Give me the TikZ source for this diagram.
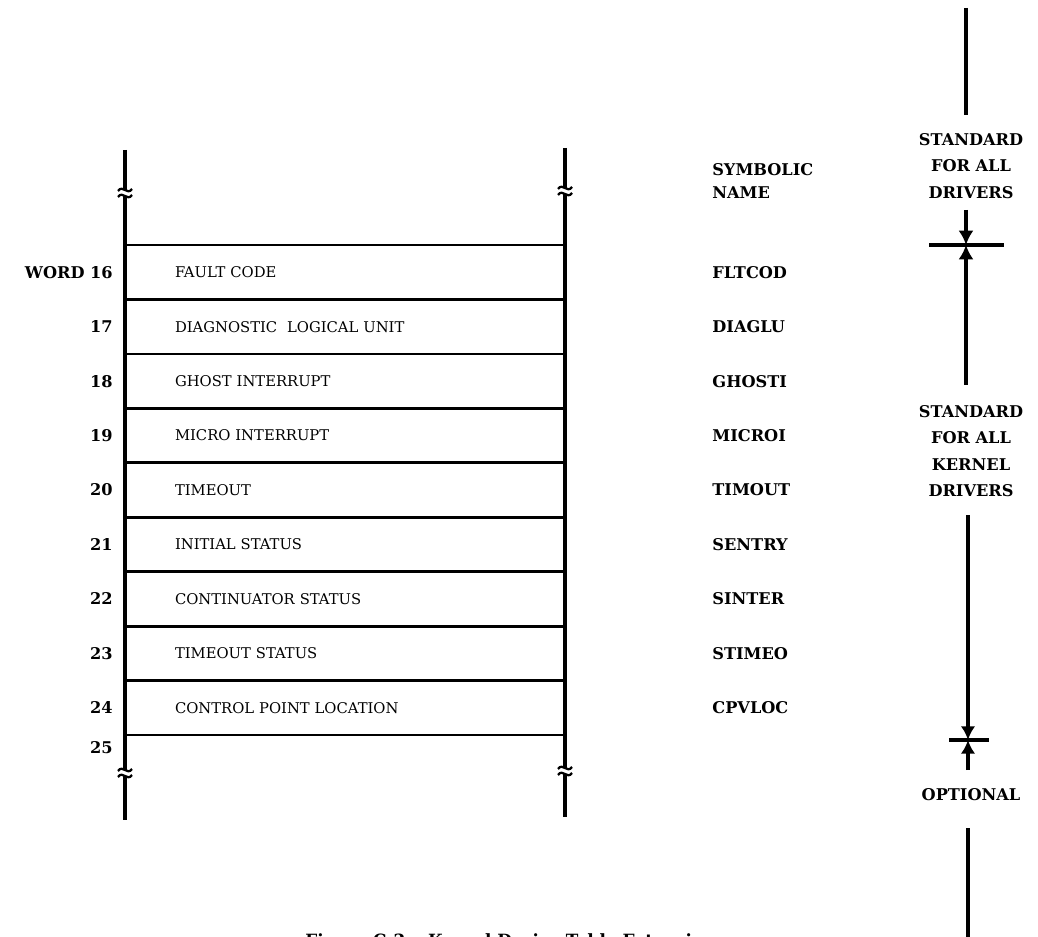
\documentclass[tikz,border=0pt]{standalone}
\usepackage{fontspec}
\setmainfont{DejaVu Serif}
\usetikzlibrary{arrows.meta,positioning}

\newcommand{\fieldfont}{\fontsize{10.5}{12}\selectfont}
\newcommand{\tagfont}{\fontsize{11.5}{18.8}\selectfont\bfseries}

\begin{document}
\begin{tikzpicture}[x=0.025cm, y=-0.025cm,
  node distance=0pt,
  field/.style={draw, line width=1.9pt, outer sep=0pt, minimum width=11cm,
                minimum height=1.361cm, inner xsep=1.25cm, inner ysep=0pt,
                text width=8.5cm, align=left, font=\fieldfont},
  wordno/.style={inner sep=0pt, font=\tagfont},
  symname/.style={inner sep=0pt, font=\tagfont},
  note/.style={inner sep=0pt, align=center, font=\tagfont},
  spine/.style={line width=2.5pt},
  arr/.style={spine, -{Latex[length=3.6mm, width=3.8mm]}},
  brk/.pic={\draw[line width=1.6pt] (-7,1) .. controls (-2,-6) and (2,6) .. (7,-1);
            \draw[line width=1.6pt] (-7,7) .. controls (-2,0) and (2,12) .. (7,5);}]
  \useasboundingbox (0,0) rectangle (1038,937);
  \clip (0,0) rectangle (1038,937);

  % table rows
  \node[field, anchor=north west] (r16) at (125,245) {FAULT CODE};
  \node[field, below=of r16] (r17) {DIAGNOSTIC\ \ LOGICAL UNIT};
  \node[field, below=of r17] (r18) {GHOST INTERRUPT};
  \node[field, below=of r18] (r19) {MICRO INTERRUPT};
  \node[field, below=of r19] (r20) {TIMEOUT};
  \node[field, below=of r20] (r21) {INITIAL STATUS};
  \node[field, below=of r21] (r22) {CONTINUATOR STATUS};
  \node[field, below=of r22] (r23) {TIMEOUT STATUS};
  \node[field, below=of r23] (r24) {CONTROL POINT LOCATION};

  % word numbers
  \node[wordno, left=3mm of r16] (w16) {WORD 16};
  \node[wordno, left=3mm of r17] (w17) {17};
  \node[wordno, left=3mm of r18] (w18) {18};
  \node[wordno, left=3mm of r19] (w19) {19};
  \node[wordno, left=3mm of r20] (w20) {20};
  \node[wordno, left=3mm of r21] (w21) {21};
  \node[wordno, left=3mm of r22] (w22) {22};
  \node[wordno, left=3mm of r23] (w23) {23};
  \node[wordno, left=3mm of r24] (w24) {24};
  \node[wordno, below left=1.6mm and 3mm of r24.south west] (w25) {25};

  % symbolic names
  \node[symname, anchor=west, align=left, font=\fontsize{11.5}{16.4}\selectfont\bfseries]
       (symhead) at (712,181) {SYMBOLIC\\NAME};
  \node[symname, right=3.675cm of r16] (s16) {FLTCOD};
  \node[symname, right=3.675cm of r17] (s17) {DIAGLU};
  \node[symname, right=3.675cm of r18] (s18) {GHOSTI};
  \node[symname, right=3.675cm of r19] (s19) {MICROI};
  \node[symname, right=3.675cm of r20] (s20) {TIMOUT};
  \node[symname, right=3.675cm of r21] (s21) {SENTRY};
  \node[symname, right=3.675cm of r22] (s22) {SINTER};
  \node[symname, right=3.675cm of r23] (s23) {STIMEO};
  \node[symname, right=3.675cm of r24] (s24) {CPVLOC};

  % side rails with breaks
  \coordinate (ltop) at (125,150);
  \coordinate (lbrka) at (125,190);
  \coordinate (lbrkb) at (125,196);
  \coordinate (lbrkc) at (125,770);
  \coordinate (lbrkd) at (125,776);
  \coordinate (lbot) at (125,820);
  \coordinate (rtop) at (565,148);
  \coordinate (rbrka) at (565,188);
  \coordinate (rbrkb) at (565,194);
  \coordinate (rbrkc) at (565,768);
  \coordinate (rbrkd) at (565,774);
  \coordinate (rbot) at (565,817);
  \draw[spine] (ltop) -- (lbrka) (lbrkb) -- (lbrkc) (lbrkd) -- (lbot);
  \draw[spine] (rtop) -- (rbrka) (rbrkb) -- (rbrkc) (rbrkd) -- (rbot);
  \pic at (lbrka) {brk};
  \pic at (lbrkc) {brk};
  \pic at (rbrka) {brk};
  \pic at (rbrkc) {brk};

  % scope column
  \coordinate (ctop) at (966,8);
  \coordinate (cend) at (966,115);
  \node[note] (stdall) at (971,166) {STANDARD\\FOR ALL\\DRIVERS};
  \coordinate (adown) at (966,210);
  \coordinate (bar1) at (966,245);
  \coordinate (bar1w) at (929,245);
  \coordinate (bar1e) at (1004,245);
  \coordinate (aup) at (966,385);
  \node[note] (stdkern) at (971,451) {STANDARD\\FOR ALL\\KERNEL\\DRIVERS};
  \coordinate (bdown) at (968,515);
  \coordinate (bar2) at (968,740);
  \coordinate (bar2w) at (949,740);
  \coordinate (bar2e) at (989,740);
  \coordinate (bup) at (968,770);
  \node[note] (opt) at (971,795) {OPTIONAL};
  \coordinate (cbot) at (968,828);
  \coordinate (cout) at (968,950);
  \draw[spine] (ctop) -- (cend);
  \draw[arr] (adown) -- (bar1);
  \draw[arr] (aup) -- (bar1);
  \draw[spine] (bar1w) -- (bar1e);
  \draw[arr, -{Latex[length=3.4mm, width=3.6mm]}] (bdown) -- (bar2);
  \draw[arr, -{Latex[length=3.4mm, width=3.6mm]}] (bup) -- (bar2);
  \draw[spine] (bar2w) -- (bar2e);
  \draw[spine] (cbot) -- (cout);

  % caption, cut off by the page edge
  \node[inner sep=0pt, anchor=north west, font=\fontsize{12}{14}\selectfont\bfseries]
       (capt) at (305,933) {Figure C-2.\quad Kernel Device Table Extension};
\end{tikzpicture}
\end{document}
